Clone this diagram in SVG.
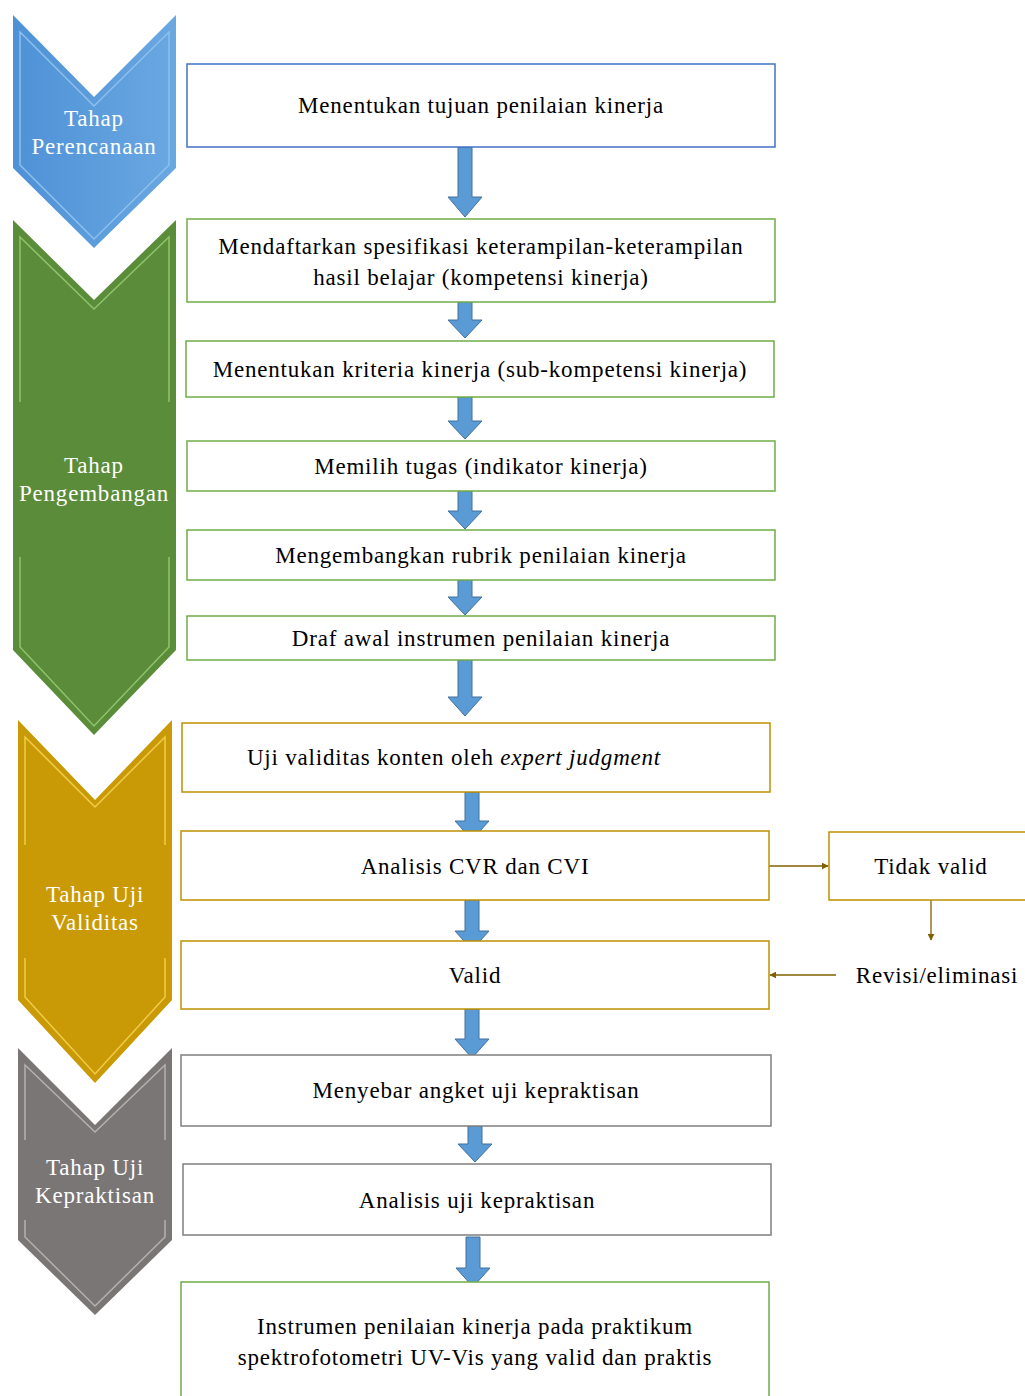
<svg xmlns="http://www.w3.org/2000/svg" width="1025" height="1396" viewBox="0 0 1025 1396">
<style>
.t{font-family:"Liberation Serif","Times New Roman",serif;font-size:23px;letter-spacing:0.8px;fill:#000;text-anchor:middle}
.w{font-family:"Liberation Serif","Times New Roman",serif;font-size:23px;letter-spacing:0.8px;fill:#fff;text-anchor:middle}
.box{fill:#fff;stroke-width:1.5}
.bl{stroke:#4472C4}.gr{stroke:#70AD47}.go{stroke:#BF9000}.gy{stroke:#7F7F7F}
.ar{fill:#5B9BD5;stroke:#41719C;stroke-width:1}
.ln{stroke:#7F6000;stroke-width:1.3;fill:none}
</style>
<defs>
<marker id="m" viewBox="0 0 10 10" refX="9" refY="5" markerWidth="7" markerHeight="7" orient="auto" markerUnits="userSpaceOnUse"><path d="M0,0 L10,5 L0,10 z" fill="#7F6000"/></marker>
<linearGradient id="gb" x1="0" y1="0" x2="1" y2="0"><stop offset="0" stop-color="#4E91D6"/><stop offset="1" stop-color="#6AA8E2"/></linearGradient>
</defs>
<rect width="1025" height="1396" fill="#fff"/>

<g id="stage-perencanaan">
<polygon points="13,15 94,97 176,15 176,168 94,248 13,168" fill="url(#gb)"/>
<polygon points="20,32 94,106 169,32 169,165 94,239 20,165" fill="none" stroke="#8EC0EC" stroke-width="1.5"/>
<text class="w" x="94" y="126">Tahap</text>
<text class="w" x="94" y="154">Perencanaan</text>
</g>

<g id="stage-pengembangan">
<polygon points="13,220 94,300 176,220 176,650 94,735 13,650" fill="#5B8C3A"/>
<polygon points="20,237 94,309 169,237 169,647 94,726 20,647" fill="none" stroke="#8FC46B" stroke-width="1.5"/>
<rect x="13" y="402" width="163" height="155" fill="#5B8C3A"/>
<text class="w" x="94" y="473">Tahap</text>
<text class="w" x="94" y="501">Pengembangan</text>
</g>

<g id="stage-validitas">
<polygon points="18,720 95,800 172,720 172,1000 95,1083 18,1000" fill="#C99A06"/>
<polygon points="25,737 95,807 165,737 165,997 95,1074 25,997" fill="none" stroke="#F0CC4A" stroke-width="1.5"/>
<rect x="18" y="845" width="154" height="113" fill="#C99A06"/>
<text class="w" x="95" y="902">Tahap Uji</text>
<text class="w" x="95" y="930">Validitas</text>
</g>

<g id="stage-kepraktisan">
<polygon points="18,1048 95,1125 172,1048 172,1240 95,1315 18,1240" fill="#7B7676"/>
<polygon points="25,1065 95,1132 165,1065 165,1237 95,1306 25,1237" fill="none" stroke="#B5B1B1" stroke-width="1.5"/>
<rect x="18" y="1140" width="154" height="80" fill="#7B7676"/>
<text class="w" x="95" y="1175">Tahap Uji</text>
<text class="w" x="95" y="1203">Kepraktisan</text>
</g>

<g id="connectors">
<path class="ar" d="M458,147 h14 v50 h10 l-17,20 l-17,-20 h10 z"/>
<path class="ar" d="M458,302 h14 v18 h10 l-17,18 l-17,-18 h10 z"/>
<path class="ar" d="M458,397 h14 v24 h10 l-17,18 l-17,-18 h10 z"/>
<path class="ar" d="M458,491 h14 v20 h10 l-17,18 l-17,-18 h10 z"/>
<path class="ar" d="M458,580 h14 v17 h10 l-17,18 l-17,-18 h10 z"/>
<path class="ar" d="M458,660 h14 v37 h10 l-17,19 l-17,-19 h10 z"/>
<path class="ar" d="M465,792 h14 v29 h10 l-17,19 l-17,-19 h10 z"/>
<path class="ar" d="M465,900 h14 v31 h10 l-17,19 l-17,-19 h10 z"/>
<path class="ar" d="M465,1009 h14 v30 h10 l-17,19 l-17,-19 h10 z"/>
<path class="ar" d="M468,1126 h14 v18 h10 l-17,18 l-17,-18 h10 z"/>
<path class="ar" d="M466,1237 h14 v31 h10 l-17,19 l-17,-19 h10 z"/>
<line class="ln" x1="769" y1="866" x2="828" y2="866" marker-end="url(#m)"/>
<line class="ln" x1="931" y1="900" x2="931" y2="940" marker-end="url(#m)"/>
<line class="ln" x1="836" y1="975" x2="770" y2="975" marker-end="url(#m)"/>
</g>

<g id="n1"><rect class="box bl" x="187" y="64" width="588" height="83"/><text class="t" x="481" y="113">Menentukan tujuan penilaian kinerja</text></g>
<g id="n2"><rect class="box gr" x="187" y="219" width="588" height="83"/><text class="t" x="481" y="254">Mendaftarkan spesifikasi keterampilan-keterampilan</text><text class="t" x="481" y="285">hasil belajar (kompetensi kinerja)</text></g>
<g id="n3"><rect class="box gr" x="186" y="341" width="588" height="56"/><text class="t" x="480" y="377">Menentukan kriteria kinerja (sub-kompetensi kinerja)</text></g>
<g id="n4"><rect class="box gr" x="187" y="441" width="588" height="50"/><text class="t" x="481" y="474">Memilih tugas (indikator kinerja)</text></g>
<g id="n5"><rect class="box gr" x="187" y="530" width="588" height="50"/><text class="t" x="481" y="563">Mengembangkan rubrik penilaian kinerja</text></g>
<g id="n6"><rect class="box gr" x="187" y="616" width="588" height="44"/><text class="t" x="481" y="646">Draf awal instrumen penilaian kinerja</text></g>
<g id="n7"><rect class="box go" x="182" y="723" width="588" height="69"/><text class="t" x="454" y="765">Uji validitas konten oleh <tspan font-style="italic">expert judgment</tspan></text></g>
<g id="n8"><rect class="box go" x="181" y="831" width="588" height="69"/><text class="t" x="475" y="874">Analisis CVR dan CVI</text></g>
<g id="n9"><rect class="box go" x="181" y="941" width="588" height="68"/><text class="t" x="475" y="983">Valid</text></g>
<g id="n10"><rect class="box gy" x="181" y="1055" width="590" height="71"/><text class="t" x="476" y="1098">Menyebar angket uji kepraktisan</text></g>
<g id="n11"><rect class="box gy" x="183" y="1164" width="588" height="71"/><text class="t" x="477" y="1208">Analisis uji kepraktisan</text></g>
<g id="n12"><rect class="box gr" x="181" y="1282" width="588" height="130"/><text class="t" x="475" y="1334">Instrumen penilaian kinerja pada praktikum</text><text class="t" x="475" y="1365">spektrofotometri UV-Vis yang valid dan praktis</text></g>
<g id="n13"><rect class="box go" x="829" y="832" width="210" height="68"/><text class="t" x="931" y="874">Tidak valid</text></g>
<g id="n14"><text class="t" x="937" y="983">Revisi/eliminasi</text></g>
</svg>
